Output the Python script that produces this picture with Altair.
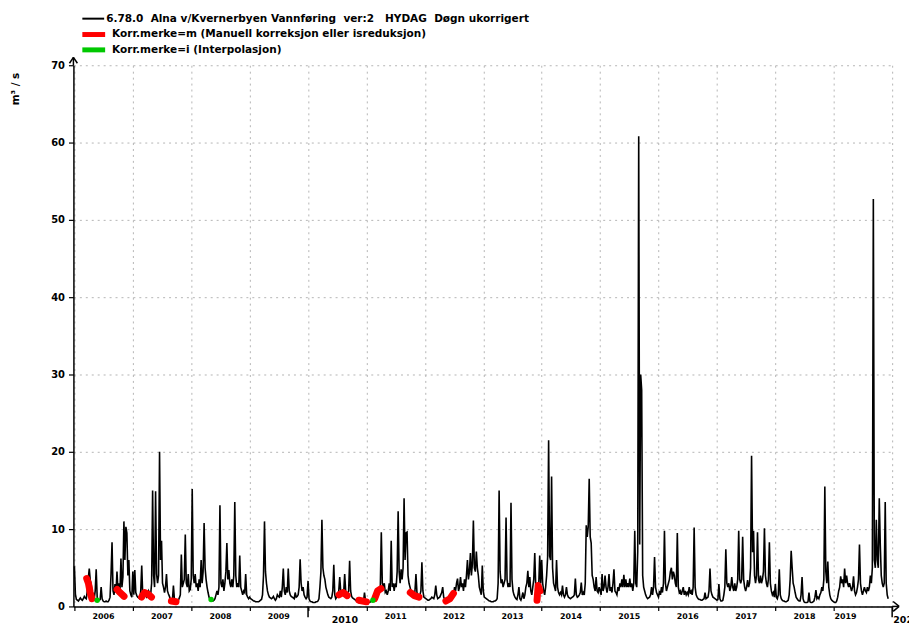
import altair as alt
import pandas as pd

# ---- daily discharge (m3/s), ~1 sample per 1/59 year ----
Q2006 = [5.2,1.6,0.9,0.8,0.7,0.9,1.1,0.9,0.8,1.0,1.3,1.1,1.0,2.0,3.6,4.9,3.4,2.8,1.8,1.2,1.0,2.0,4.8,1.2,0.8,0.8,0.9,2.5,1.0,0.7,
         0.6,0.6,0.7,0.6,0.6,0.8,1.2,4.2,8.3,2.0,1.5,2.9,1.8,4.5,2.0,3.0,1.8,6.2,2.5,3.8,11.0,6.0,10.3,9.5,4.0,6.0,2.0,1.5,1.2]
Q2007 = [4.5,1.5,4.7,1.8,1.4,1.2,1.1,1.0,2.0,5.3,1.5,1.6,1.8,1.4,1.2,1.5,2.0,1.7,1.5,3.0,15.0,4.0,2.5,14.9,4.2,3.0,4.0,20.0,6.0,8.5,
         3.0,2.5,1.8,2.5,4.2,2.0,1.6,1.3,0.9,0.8,0.8,2.7,1.0,0.7,0.6,0.7,0.8,1.1,1.5,6.7,2.5,3.0,3.5,9.3,3.0,2.5,4.2,2.0,2.2]
Q2008 = [3.5,15.2,4.0,3.0,4.2,2.5,3.0,2.0,3.5,2.5,6.0,3.0,4.5,10.8,5.0,3.5,2.5,1.8,1.2,0.9,0.8,0.7,0.7,0.8,1.0,1.5,2.0,1.5,2.5,13.1,
         3.0,2.5,3.5,2.0,3.0,4.5,8.2,3.5,4.7,3.0,2.5,3.5,2.5,4.0,13.5,4.0,2.5,3.0,2.5,6.6,2.5,2.0,1.5,2.0,1.8,4.2,1.5,1.2,1.0]
Q2009 = [1.2,1.0,0.9,0.8,0.7,0.7,0.6,0.6,0.6,0.6,0.7,0.8,0.9,1.5,4.0,11.0,4.5,3.0,2.0,1.5,1.2,1.1,1.0,1.1,1.3,1.0,0.8,1.0,1.5,1.3,
         1.2,2.0,1.2,2.5,4.9,2.0,1.5,2.5,1.8,4.9,2.0,1.5,1.3,1.2,1.1,1.0,1.8,1.2,1.3,1.5,2.5,6.1,3.0,2.0,2.5,1.5,1.2,1.0,1.2]
Q2010 = [3.3,1.0,0.7,0.6,0.6,0.5,0.5,0.5,0.6,0.6,0.7,1.0,2.5,4.5,11.2,5.0,4.0,3.5,2.5,2.0,1.5,1.2,1.1,1.0,1.2,2.0,5.4,1.5,1.0,1.2,
         1.5,2.0,3.8,2.0,1.5,2.0,1.8,4.2,2.0,1.5,1.7,2.0,5.9,2.0,1.3,1.1,1.0,0.9,0.8,0.7,0.6,0.5,0.5,0.5,0.5,0.5,0.6,1.8,0.8]
Q2011 = [0.6,0.5,0.5,0.5,0.6,0.7,0.8,0.9,1.0,1.2,1.5,2.0,2.2,1.8,2.5,9.6,3.0,2.5,3.0,1.8,2.0,1.5,2.0,3.0,2.0,8.5,2.5,3.0,2.0,3.0,
         2.5,4.5,12.3,4.5,3.0,4.8,3.5,5.0,14.0,6.0,9.5,9.6,4.0,3.0,2.5,2.0,1.5,1.8,1.2,2.0,4.2,1.8,1.5,1.0,1.5,2.0,5.7,2.0,1.2]
Q2012 = [1.1,1.0,0.9,0.8,0.8,0.9,1.0,1.2,1.1,1.0,1.5,2.7,1.5,1.0,1.1,1.2,1.5,1.8,2.5,1.2,0.9,0.7,0.6,0.6,0.7,0.8,1.0,1.2,2.0,1.5,
         2.5,2.0,3.0,3.6,2.0,2.5,3.8,2.5,3.0,2.0,3.5,2.5,4.0,6.0,3.5,4.5,6.9,4.0,5.5,11.1,5.0,4.5,7.1,5.0,4.0,2.5,2.0,1.5,5.3]
Q2013 = [2.0,1.2,1.1,1.0,0.9,0.8,0.7,0.7,0.6,0.6,0.6,0.7,0.7,0.8,1.0,3.0,15.0,4.5,3.0,3.5,2.5,3.0,3.5,11.5,3.5,2.5,3.0,2.5,13.4,3.5,
         2.0,1.5,1.2,1.0,0.9,1.5,2.5,1.0,0.8,1.2,1.8,1.0,1.5,2.5,3.0,4.6,2.5,3.8,2.0,1.5,2.5,3.5,6.9,2.5,1.5,2.0,2.7,6.6,3.0]
Q2014 = [6.0,3.0,2.0,1.5,2.5,4.0,6.4,21.5,6.5,6.0,16.8,5.0,3.0,2.5,2.0,6.0,2.5,1.8,1.5,1.8,1.5,2.7,1.5,1.2,1.5,2.5,1.5,1.2,1.1,1.0,
         1.1,1.2,1.3,1.5,3.6,1.5,1.2,1.3,1.5,1.8,3.1,1.5,1.8,1.5,3.0,10.5,9.0,10.3,16.5,9.0,8.2,4.0,3.5,2.5,2.0,3.8,2.0,1.8,2.5]
Q2015 = [2.0,1.5,4.2,2.0,2.5,4.0,2.5,1.8,2.5,4.2,2.0,2.5,1.8,3.0,4.8,2.0,1.8,1.5,2.5,2.0,3.0,2.5,3.5,2.5,4.1,2.5,3.5,2.5,3.0,2.5,
         3.6,2.5,3.0,2.0,3.0,9.8,3.0,2.5,7.1,60.8,8.0,30.0,28.0,4.0,2.5,2.0,1.5,1.2,1.0,1.1,1.2,1.5,2.5,1.5,2.5,6.4,2.5,1.8,1.5]
Q2016 = [1.2,2.0,1.5,2.5,1.8,3.0,9.8,3.0,2.0,2.5,3.0,3.5,4.5,5.0,3.5,4.5,4.0,3.0,2.5,9.5,2.5,1.8,2.0,1.5,2.0,2.5,1.5,2.0,1.5,1.8,
         1.5,2.5,1.8,2.0,1.5,2.5,10.2,2.5,1.5,1.2,1.0,0.9,0.9,0.8,0.8,0.9,1.0,1.8,1.0,1.1,1.2,2.0,4.9,2.0,1.5,1.2,1.1,1.0,0.9]
Q2017 = [0.8,0.9,2.9,1.0,0.7,0.7,0.8,1.5,2.5,7.4,3.0,2.5,3.0,2.0,2.5,3.8,2.5,2.0,3.0,2.0,2.5,3.5,9.8,3.5,3.0,3.5,9.0,3.5,2.5,2.0,
         2.5,3.4,2.5,3.0,5.0,19.5,7.0,9.8,4.0,3.0,4.0,9.6,3.5,3.0,4.0,3.0,3.5,4.5,10.1,4.0,3.0,2.5,3.5,8.3,3.0,2.0,1.5,1.8,1.2]
Q2018 = [2.9,1.2,1.0,1.5,4.8,1.5,1.0,0.8,0.7,0.7,0.6,0.6,0.7,0.8,1.5,3.5,7.2,5.0,3.0,2.5,1.8,1.2,1.0,0.8,0.7,0.7,1.5,3.8,1.0,0.6,
         0.5,0.5,0.5,0.6,1.8,0.6,0.5,0.5,0.6,0.7,1.2,2.1,1.0,1.2,1.0,1.5,1.8,2.5,2.0,3.5,15.5,4.5,3.0,5.8,2.5,1.5,1.0,0.8,0.7]
Q2019 = [0.6,0.5,0.5,0.7,1.2,2.0,2.5,3.9,3.0,3.5,2.5,4.9,3.0,4.0,3.0,2.5,3.0,2.5,2.0,2.5,3.9,2.0,1.5,1.8,2.5,3.5,8.0,3.0,2.0,1.5,
         2.0,2.5,2.0,1.8,2.5,2.0,2.5,4.0,3.0,5.0,52.7,6.0,5.0,11.2,6.0,5.0,14.0,8.0,4.0,3.0,2.5,3.0,13.5,3.0,1.5,1.0]

YEARS = list(range(2006, 2020))
SERIES = [Q2006, Q2007, Q2008, Q2009, Q2010, Q2011, Q2012, Q2013, Q2014, Q2015, Q2016, Q2017, Q2018, Q2019]
STEPS_PER_YEAR = 59

# ---- Korr.merke=m (manual correction) segments: segment id, decimal year, value ----
RED_SEG = [1, 1, 1, 1, 2, 2, 2, 3, 3, 3, 3, 4, 4, 5, 5, 5, 6, 6, 7, 7, 7, 8, 8, 8, 9, 9, 9, 10, 10, 10]
RED_X = [2006.21, 2006.24, 2006.27, 2006.30, 2006.73, 2006.78, 2006.85, 2007.15, 2007.20, 2007.26, 2007.32,
         2007.66, 2007.74, 2010.53, 2010.60, 2010.67, 2010.87, 2011.00, 2011.14, 2011.19, 2011.25,
         2011.75, 2011.82, 2011.90, 2012.36, 2012.43, 2012.49, 2013.92, 2013.94, 2013.97]
RED_V = [3.6, 3.0, 1.8, 1.0, 2.2, 1.8, 1.3, 1.2, 1.8, 1.6, 1.2, 0.7, 0.6, 1.5, 1.8, 1.4, 0.8, 0.6, 1.0, 2.0, 2.3,
         1.8, 1.4, 1.2, 0.7, 1.0, 1.7, 0.8, 2.7, 2.0]

# ---- Korr.merke=i (interpolation) ----
GREEN_X = [2006.39, 2008.34, 2011.11]
GREEN_V = [0.8, 0.9, 0.8]

# ---- axis text ----
YEAR_LABELS = ["2006", "2007", "2008", "2009", "2011", "2012", "2013", "2014", "2015", "2016", "2017", "2018", "2019"]
YEAR_LABEL_POS = [2006.5, 2007.5, 2008.5, 2009.5, 2011.5, 2012.5, 2013.5, 2014.5, 2015.5, 2016.5, 2017.5, 2018.5, 2019.2]
DECADE_LABELS = ["2010", "2020"]
DECADE_POS = [2010.63, 2020.02]
DECADE_ALIGN = ["center", "left"]
DECADE_TICKS = [2010, 2020]

LEGEND = ["6.78.0\u00a0 Alna v/Kvernerbyen Vannføring\u00a0 ver:2\u00a0\u00a0 HYDAG\u00a0 Døgn ukorrigert",
          "Korr.merke=m (Manuell korreksjon eller isreduksjon)",
          "Korr.merke=i (Interpolasjon)"]
Y_TITLE = "m³ / s"

FONT = "DejaVu Sans"
W, H = 826, 546

rows = []
for yr, vals in zip(YEARS, SERIES):
    for i, v in enumerate(vals):
        rows.append({"t": yr + i / STEPS_PER_YEAR, "q": v})
df = pd.DataFrame(rows)

xs = alt.Scale(domain=[2005.983, 2020], nice=False, zero=False)
ys = alt.Scale(domain=[0, 70], nice=False, zero=False)

grid_kw = dict(grid=True, gridColor="#b4b4b4", gridDash=[2, 4], gridWidth=1)

line = alt.Chart(df).mark_line(color="black", strokeWidth=1.6).encode(
    x=alt.X("t:Q", scale=xs, axis=alt.Axis(values=list(range(2006, 2021)), labels=False, ticks=True, tickSize=4,
                                            tickColor="black", tickWidth=1.2, domainColor="black", domainWidth=1.5,
                                            title=None, **grid_kw)),
    y=alt.Y("q:Q", scale=ys, axis=alt.Axis(values=list(range(0, 71, 10)), labelFont=FONT, labelFontSize=10,
                                            labelFontWeight="bold", labelColor="black", labelPadding=4,
                                            tickColor="black", tickSize=5, tickWidth=1.2, domainColor="black",
                                            domainWidth=1.5, title=None, **grid_kw)),
    order="t:Q",
)

red_df = pd.DataFrame({"seg": RED_SEG, "t": RED_X, "q": RED_V})
red = alt.Chart(red_df).mark_line(color="#ff0000", strokeWidth=7, strokeCap="round", strokeJoin="round").encode(
    x=alt.X("t:Q", scale=xs), y=alt.Y("q:Q", scale=ys), detail="seg:N", order="t:Q")

green_df = pd.DataFrame({"t": GREEN_X, "q": GREEN_V})
green = alt.Chart(green_df).mark_circle(color="#00c800", size=30, opacity=1).encode(
    x=alt.X("t:Q", scale=xs), y=alt.Y("q:Q", scale=ys))

lab_df = pd.DataFrame({"t": YEAR_LABEL_POS, "label": YEAR_LABELS})
labels = alt.Chart(lab_df).mark_text(font=FONT, fontSize=8, fontWeight="bold", color="black", baseline="middle").encode(
    x=alt.X("t:Q", scale=xs), y=alt.value(H + 11), text="label:N")

dec_layers = []
for lab, pos, al in zip(DECADE_LABELS, DECADE_POS, DECADE_ALIGN):
    dec_layers.append(
        alt.Chart(pd.DataFrame({"t": [pos], "label": [lab]})).mark_text(
            font=FONT, fontSize=9.5, fontWeight="bold", color="black", baseline="middle", align=al).encode(
            x=alt.X("t:Q", scale=xs), y=alt.value(H + 14), text="label:N"))

dec_tick_df = pd.DataFrame({"t": DECADE_TICKS})
dec_ticks = alt.Chart(dec_tick_df).mark_rule(color="black", strokeWidth=1.5).encode(
    x=alt.X("t:Q", scale=xs), y=alt.value(H), y2=alt.value(H + 11))

def seg(x1, y1, x2, y2, color="black", width=1.5):
    return alt.Chart(pd.DataFrame({"a": [0]})).mark_rule(color=color, strokeWidth=width).encode(
        x=alt.value(x1), y=alt.value(y1), x2=alt.value(x2), y2=alt.value(y2))

arrows = [
    seg(0, 0, 0, -8), seg(0, -8, -4, -2), seg(0, -8, 4, -2),
    seg(W, H, W + 7, H), seg(W + 7, H, W + 1, H - 5), seg(W + 7, H, W + 1, H + 5),
]

leg_lines = [
    seg(9, -47, 31, -47, "black", 2),
    seg(9, -31, 32, -31, "#ff0000", 5),
    seg(9, -15.5, 32, -15.5, "#00c800", 5),
]
leg_df = pd.DataFrame({"label": LEGEND, "x": [33, 39, 39], "y": [-47, -31, -15.5]})
leg_text = alt.Chart(leg_df).mark_text(font=FONT, fontSize=10.6, fontWeight="bold", color="black",
                                        align="left", baseline="middle").encode(
    x=alt.X("x:Q", scale=None), y=alt.Y("y:Q", scale=None), text="label:N")

ytitle = alt.Chart(pd.DataFrame({"label": [Y_TITLE]})).mark_text(
    font=FONT, fontSize=10.5, fontWeight="bold", color="black", angle=270, baseline="middle").encode(
    x=alt.value(-58), y=alt.value(24), text="label:N")

chart = alt.layer(line, red, green, labels, *dec_layers, dec_ticks, *arrows, *leg_lines, leg_text, ytitle).properties(
    width=W, height=H,
    padding={"left": 66, "top": 55, "right": 17, "bottom": 18},
    autosize=alt.AutoSizeParams(type="none"),
    background="white",
).configure_view(stroke=None)

chart.save("out.html", embed_options={"renderer": "svg", "actions": False})
